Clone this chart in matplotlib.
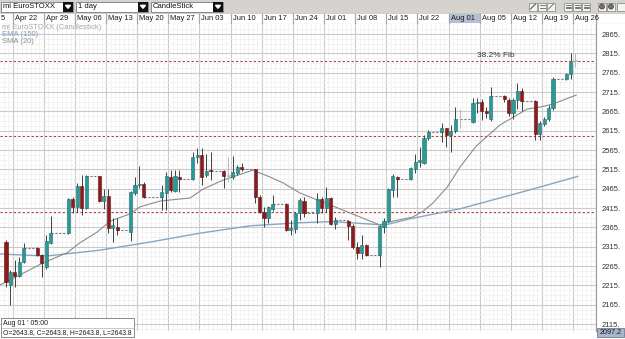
import numpy as np
import pandas as pd
import matplotlib
matplotlib.use("Agg")
import matplotlib.pyplot as plt
from matplotlib.patches import Rectangle

plt.rcParams['font.family'] = ['Liberation Sans', 'DejaVu Sans']

# ---- values ----
dates = pd.to_datetime([
    '2013-04-22', '2013-04-23', '2013-04-24', '2013-04-25', '2013-04-26',
    '2013-04-29', '2013-04-30', '2013-05-01', '2013-05-02',
    '2013-05-06', '2013-05-07', '2013-05-08', '2013-05-09', '2013-05-10',
    '2013-05-13', '2013-05-14', '2013-05-15', '2013-05-16', '2013-05-17',
    '2013-05-20', '2013-05-21', '2013-05-22', '2013-05-23',
    '2013-05-27', '2013-05-28', '2013-05-29', '2013-05-30', '2013-05-31',
    '2013-06-03', '2013-06-04', '2013-06-05', '2013-06-06', '2013-06-07',
    '2013-06-10', '2013-06-11', '2013-06-12', '2013-06-13', '2013-06-14',
    '2013-06-17', '2013-06-18', '2013-06-19', '2013-06-20', '2013-06-21',
    '2013-06-24', '2013-06-25', '2013-06-26', '2013-06-27', '2013-06-28',
    '2013-07-01', '2013-07-02', '2013-07-03', '2013-07-04', '2013-07-05',
    '2013-07-08', '2013-07-09', '2013-07-10', '2013-07-11', '2013-07-12',
    '2013-07-15', '2013-07-16', '2013-07-17', '2013-07-18', '2013-07-19',
    '2013-07-22', '2013-07-23', '2013-07-24', '2013-07-25', '2013-07-26',
    '2013-07-29', '2013-07-30', '2013-07-31', '2013-08-01', '2013-08-02',
    '2013-08-05', '2013-08-06', '2013-08-07', '2013-08-08', '2013-08-09',
    '2013-08-12', '2013-08-13', '2013-08-14', '2013-08-15', '2013-08-16',
    '2013-08-19', '2013-08-20', '2013-08-21', '2013-08-22', '2013-08-23',
    '2013-08-26', '2013-08-27', '2013-08-28'])

opens = [2328, 2216, 2250, 2240, 2275,
         2311, 2293, 2262, 2324,
         2350, 2438, 2418, 2472, 2414,
         2498, 2432, 2445, 2363, 2367,
         2354, 2455, 2475, 2476,
         2443, 2455, 2496, 2460, 2494,
         2490, 2546, 2552, 2500, 2514,
         2511, 2499, 2496, 2506, 2520,
         2515, 2444, 2405, 2388, 2413,
         2425, 2358, 2361, 2401, 2433,
         2401, 2438, 2414, 2440, 2374,
         2382, 2368, 2313, 2299, 2319,
         2293, 2366, 2382, 2462, 2496,
         2490, 2516, 2535, 2532, 2597,
         2611, 2621, 2604, 2615, 2644,
         2638, 2687, 2690, 2666, 2645,
         2705, 2694, 2661, 2694, 2718,
         2692, 2606, 2632, 2645, 2673,
         2749, 2762, 2796]
highs = [2333, 2255, 2281, 2289, 2324,
         2314, 2296, 2345, 2394,
         2440, 2444, 2479, 2500, 2500,
         2499, 2463, 2463, 2388, 2388,
         2460, 2496, 2524, 2483,
         2474, 2509, 2513, 2513, 2513,
         2561, 2569, 2569, 2556, 2561,
         2513, 2548, 2550, 2525, 2532,
         2517, 2449, 2417, 2420, 2449,
         2427, 2384, 2405, 2440, 2443,
         2453, 2443, 2469, 2443, 2391,
         2384, 2374, 2328, 2345, 2321,
         2371, 2388, 2466, 2503, 2498,
         2522, 2556, 2574, 2604, 2617,
         2634, 2623, 2630, 2677, 2670,
         2699, 2699, 2698, 2676, 2729,
         2708, 2699, 2700, 2739, 2725,
         2694, 2640, 2650, 2681, 2753,
         2765, 2815, 2815]
lows = [2210, 2164, 2212, 2237, 2272,
        2290, 2237, 2258, 2322,
        2348, 2401, 2405, 2397, 2412,
        2430, 2412, 2350, 2328, 2345,
        2330, 2449, 2466, 2440,
        2410, 2410, 2457, 2457, 2457,
        2487, 2531, 2474, 2496, 2487,
        2466, 2483, 2489, 2500, 2510,
        2427, 2401, 2367, 2375, 2408,
        2356, 2345, 2350, 2384, 2392,
        2377, 2401, 2405, 2372, 2362,
        2332, 2308, 2282, 2282, 2290,
        2263, 2351, 2380, 2444, 2444,
        2488, 2505, 2520, 2528, 2592,
        2586, 2574, 2561, 2608, 2622,
        2634, 2660, 2643, 2648, 2640,
        2690, 2652, 2645, 2670, 2666,
        2591, 2591, 2628, 2640, 2668,
        2745, 2748, 2780]
closes = [2225, 2250, 2240, 2275, 2311,
          2293, 2272, 2330, 2350,
          2438, 2417, 2472, 2414, 2498,
          2433, 2445, 2363, 2370, 2357,
          2457, 2475, 2478, 2444,
          2457, 2498, 2462, 2498, 2490,
          2546, 2552, 2496, 2512, 2511,
          2499, 2499, 2509, 2520, 2515,
          2444, 2405, 2388, 2417, 2425,
          2358, 2363, 2403, 2436, 2401,
          2438, 2414, 2440, 2374, 2384,
          2368, 2313, 2299, 2319, 2293,
          2368, 2382, 2463, 2498, 2491,
          2519, 2535, 2540, 2595, 2611,
          2621, 2604, 2615, 2644, 2644,
          2687, 2690, 2666, 2660, 2705,
          2697, 2661, 2694, 2718, 2692,
          2606, 2636, 2645, 2673, 2749,
          2762, 2796, 2796]

# SMA(20) and EMA(150) traced as (days after Apr 22, value)
sma_x = [-1.4, 3.1, 8.3, 13.7, 16.6, 20.5, 23.4, 27.9, 30.1, 34.6, 41.4, 44.3,
         48.8, 55.5, 59.4, 62.3, 66.1, 69.5, 72.9, 77.4, 84.1, 87.0, 91.5, 93.8,
         96.0, 99.2, 102.1, 105.7, 111.1, 117.2, 120.1, 123.0, 128.2]
sma_y = [2216, 2242, 2273, 2299, 2325, 2353, 2381, 2400, 2418, 2433, 2441, 2464,
         2487, 2513, 2495, 2480, 2454, 2438, 2423, 2402, 2371, 2381, 2392, 2407,
         2428, 2469, 2521, 2575, 2630, 2671, 2676, 2684, 2707]
ema_x = [-1.4, 9.2, 21.1, 32.4, 43.6, 54.9, 66.1, 73.5, 77.4, 85.2, 90.8, 102.1,
         117.8, 128.6]
ema_y = [2296, 2291, 2306, 2327, 2350, 2369, 2377, 2380, 2377, 2371, 2387, 2413,
         2462, 2497]

fib_levels = [2796, 2601, 2404]
fib_label = '38.2% Fib'
price_ticks = list(range(2115, 2866, 50))
# first column is the tail of "Apr 15", cut by the window edge
week_labels = ['5', 'Apr 22', 'Apr 29', 'May 06', 'May 13', 'May 20', 'May 27',
               'Jun 03', 'Jun 10', 'Jun 17', 'Jun 24', 'Jul 01', 'Jul 08', 'Jul 15',
               'Jul 22', 'Aug 01', 'Aug 05', 'Aug 12', 'Aug 19', 'Aug 26']
legend_lines = ['mi EuroSTOXX (Candlestick)', 'EMA (150)', 'SMA (20)']
menus = ['mi EuroSTOXX', '1 day', 'CandleStick']
cursor_lines = ["Aug 01 ' 05:00", 'O=2643.8, C=2643.8, H=2643.8, L=2643.8']
last_price = '2097.2'

teal, teal_edge = '#2b9995', '#1e6e6b'
red, red_edge = '#8c1c1c', '#5c1010'

start = pd.Timestamp('2013-04-22')
x = np.array((dates - start).days, dtype=float)
o, h, l, c = map(np.array, (opens, highs, lows, closes))

W, H = 625, 339
fig = plt.figure(figsize=(W / 100, H / 100), dpi=100)
fig.patch.set_facecolor('white')


def px_box(x0, y0, x1, y1):
  # pixel box (origin top-left) -> figure fraction
  return [x0 / W, 1 - y1 / H, (x1 - x0) / W, (y1 - y0) / H]


XLIM = (-1.36, 132.67)
YLIM = (2097.0, 2890.9)

# main price panel
ax = fig.add_axes(px_box(0, 24, 596, 331))

# week separators sit 1.5 days after the Monday bar on this platform
seps = 1.5 + 7 * np.arange(-1, len(week_labels) - 1)
ax.set_xticks(seps)
ax.set_xticks(np.arange(-5.5, 134, 1.0), minor=True)
ax.set_yticks(price_ticks)
ax.set_yticklabels([f'{t}.' for t in price_ticks])
ax.set_yticks(np.arange(2102.5, 2890, 12.5), minor=True)
ax.set_xlim(*XLIM)
ax.set_ylim(*YLIM)
ax.grid(which='minor', color='#efefef', lw=0.5)
ax.grid(which='major', color='#cacaca', lw=0.8)
ax.set_axisbelow(True)
ax.yaxis.tick_right()
ax.tick_params(axis='x', which='both', length=0, labelbottom=False)
ax.tick_params(axis='y', which='both', length=0, pad=4, labelsize=5.5, labelcolor='#333333')
for s in ['top', 'left', 'bottom']:
  ax.spines[s].set_visible(False)
ax.spines['right'].set_color('#9a9a9a')

for lev in fib_levels:
  ax.axhline(lev, color='#b23a3a', lw=0.8, ls=(0, (2, 2)), zorder=2)
ax.text(106.0, 2800, fib_label, fontsize=6, color='#333333', va='bottom', ha='left')

ax.plot(ema_x, ema_y, color='#8aa5c0', lw=1.0, zorder=3)
ax.plot(sma_x, sma_y, color='#8c8c8c', lw=0.8, zorder=3)

# dashed connector across days without a bar
for i in np.where(np.diff(x) > 1)[0]:
  ax.hlines(c[i], x[i], x[i + 1], colors='#7a7a7a', linestyles=(0, (2, 1.5)), lw=0.8, zorder=3)

face = np.where(c > o, teal, np.where(c < o, red, '#b8b8b8'))
edge = np.where(c > o, teal_edge, np.where(c < o, red_edge, '#b8b8b8'))
wick = np.where(c == o, '#b8b8b8', '#404040')
ax.vlines(x, l, h, colors=wick, lw=0.7, zorder=4)
ax.bar(x, np.maximum(np.abs(c - o), 1.5), bottom=np.minimum(o, c), width=0.7,
       color=face, edgecolor=edge, lw=0.4, zorder=5)
ax.set_xlim(*XLIM)

# date header, runs on to the right edge of the window
hx = fig.add_axes(px_box(0, 13, 625, 24))
hx.set_xlim(XLIM[0], XLIM[0] + (XLIM[1] - XLIM[0]) * 625 / 596)
hx.set_ylim(0, 1)
hx.axis('off')
hx.add_patch(Rectangle((0, 0), 1, 1, transform=hx.transAxes, fc='white', ec='none', zorder=0))
k = week_labels.index('Aug 01')
hx.add_patch(Rectangle((seps[k], 0.05), 7, 0.95, fc='#b4bfd4', ec='none', zorder=1))
for s, lab in zip(seps[1:], week_labels[1:]):
  hx.axvline(s, color='#a8a8a8', lw=0.9, zorder=2)
  hx.text(s + 0.45, 0.5, lab, fontsize=5.4, color='#1a1a1a', va='center', ha='left', zorder=3)
hx.axvline(XLIM[1], color='#a8a8a8', lw=0.9, zorder=2)
hx.text(XLIM[0] + 0.2, 0.5, week_labels[0], fontsize=5.4, color='#1a1a1a', va='center', ha='left')
hx.axhline(0.02, color='#a0a0a0', lw=0.8)
hx.axhline(0.98, color='#c8c8c8', lw=0.6)

# window chrome in pixel coordinates
ov = fig.add_axes([0, 0, 1, 1], zorder=10)
ov.set_xlim(0, W)
ov.set_ylim(H, 0)
ov.axis('off')
ov.patch.set_alpha(0)

ov.add_patch(Rectangle((0, 0), W, 13, fc='#d6d3ce', ec='none'))
for (x0, x1), lab in zip([(1, 73), (76, 148), (151, 223)], menus):
  ov.add_patch(Rectangle((x0, 1.5), x1 - x0, 10, fc='white', ec='#7a7a7a', lw=0.6))
  ov.add_patch(Rectangle((x1 - 10, 1.5), 10, 10, fc='#111111', ec='none'))
  ov.fill([x1 - 7.5, x1 - 2.5, x1 - 5], [5.3, 5.3, 8.3], color='white')
  ov.text(x0 + 2, 6.8, lab, fontsize=5.5, va='center', ha='left', color='#111111')

for ix in [529, 538, 547, 564, 573, 582, 598, 607, 617]:
  ov.add_patch(Rectangle((ix, 2.5), 8, 8, fc='#f4f4f4', ec='#808080', lw=0.5))
for ix in [598, 607]:
  ov.add_patch(plt.Circle((ix + 4, 6.5), 2.6, fc='#707070', ec='#303030', lw=0.4))
for ix in [564, 573, 582]:
  for yy in [4.8, 6.5, 8.2]:
    ov.plot([ix + 1.5, ix + 6.5], [yy, yy], color='#404040', lw=0.5)
ov.plot([530.5, 535.5], [9, 4], color='#303030', lw=0.6)
for yy in [5, 8]:
  ov.plot([539.5, 544.5], [yy, yy], color='#404040', lw=0.5)
ov.plot([548.5, 553.5], [9, 4], color='#404040', lw=0.5)

for yy, lab, col in zip([27.5, 34.5, 41.5], legend_lines, ['#a8a8a8', '#7f9cc0', '#8c8c8c']):
  ov.text(2, yy, lab, fontsize=5.5, color=col, va='center', ha='left')

ov.add_patch(Rectangle((597, 328), 27, 9, fc='#a9b5cb', ec='#6f7d99', lw=0.6))
ov.text(610.5, 332.6, last_price, fontsize=5.2, ha='center', va='center', color='#1a1a1a')

ov.add_patch(Rectangle((0.5, 318), 133, 18.5, fc='white', ec='#8a8a8a', lw=0.7))
ov.plot([0.5, 133.5], [328, 328], color='#b0b0b0', lw=0.5)
ov.text(3, 323.2, cursor_lines[0], fontsize=5.0, va='center', ha='left', color='#1a1a1a')
ov.text(3, 332.5, cursor_lines[1], fontsize=4.9, va='center', ha='left', color='#1a1a1a')

fig.savefig('out.png', dpi=100)
